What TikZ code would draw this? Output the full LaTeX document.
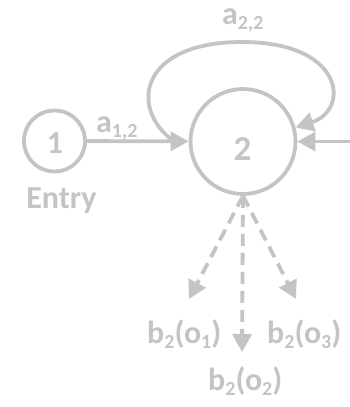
\documentclass[tikz,border=0pt]{standalone}
\usepackage{fontspec}
\setmainfont{Carlito}
\usetikzlibrary{arrows.meta}
\definecolor{lg}{RGB}{196,196,196}
\newcommand\lbl[1]{\fontsize{32}{32}\selectfont\bfseries #1}
\newcommand\sbs[1]{\raisebox{-5pt}{\fontsize{20}{20}\selectfont\bfseries #1}}
\begin{document}
\begin{tikzpicture}[x=1pt,y=-1pt,
  st/.style={circle,draw=lg,line width=3.8pt,inner sep=0pt},
  txt/.style={text=lg,inner sep=0pt},
  arr/.style={draw=lg,line width=3.8pt,-{Triangle[length=18pt,width=19pt]}},
  darr/.style={arr,dash pattern=on 12pt off 7pt}]
\useasboundingbox (0,0) rectangle (350,407);
\node[st,minimum size=61pt] (n1) at (54.5,141) {};
\node[st,minimum size=105pt] (n2) at (243,141.5) {};
\node[txt,anchor=base] (t1) at (55,153) {\lbl{1}};
\node[txt,anchor=base] (t2) at (242.5,160) {\fontsize{35}{35}\selectfont\bfseries 2};
\node[txt,anchor=base] (entry) at (61.5,208) {\lbl{Entry}};
\node[txt,anchor=base west] (a12) at (96,132) {\lbl{a\sbs{1,2}}};
\node[txt,anchor=base west] (a22) at (222,24) {\lbl{a\sbs{2,2}}};
\node[txt,anchor=base west] (bo1) at (147,343) {\lbl{b\sbs{2}(o\sbs{1})}};
\node[txt,anchor=base west] (bo3) at (267,343) {\lbl{b\sbs{2}(o\sbs{3})}};
\node[txt,anchor=base west] (bo2) at (208,390) {\lbl{b\sbs{2}(o\sbs{2})}};
\coordinate (rin) at (352,141.5);
\coordinate (ls) at (174,141.5);
\coordinate (tp) at (242,42);
\coordinate (d1) at (189,299);
\coordinate (d2) at (242,352);
\coordinate (d3) at (296,299);
\draw[arr] (n1) -- (n2);
\draw[arr] (rin) -- (n2.east);
\draw[arr] (ls) .. controls (128,108) and (140,42) .. (tp)
  .. controls (345,42) and (350,110) .. (n2.15);
\draw[darr] (n2.south) -- (d1);
\draw[darr] (n2.south) -- (d2);
\draw[darr] (n2.south) -- (d3);
\end{tikzpicture}
\end{document}
